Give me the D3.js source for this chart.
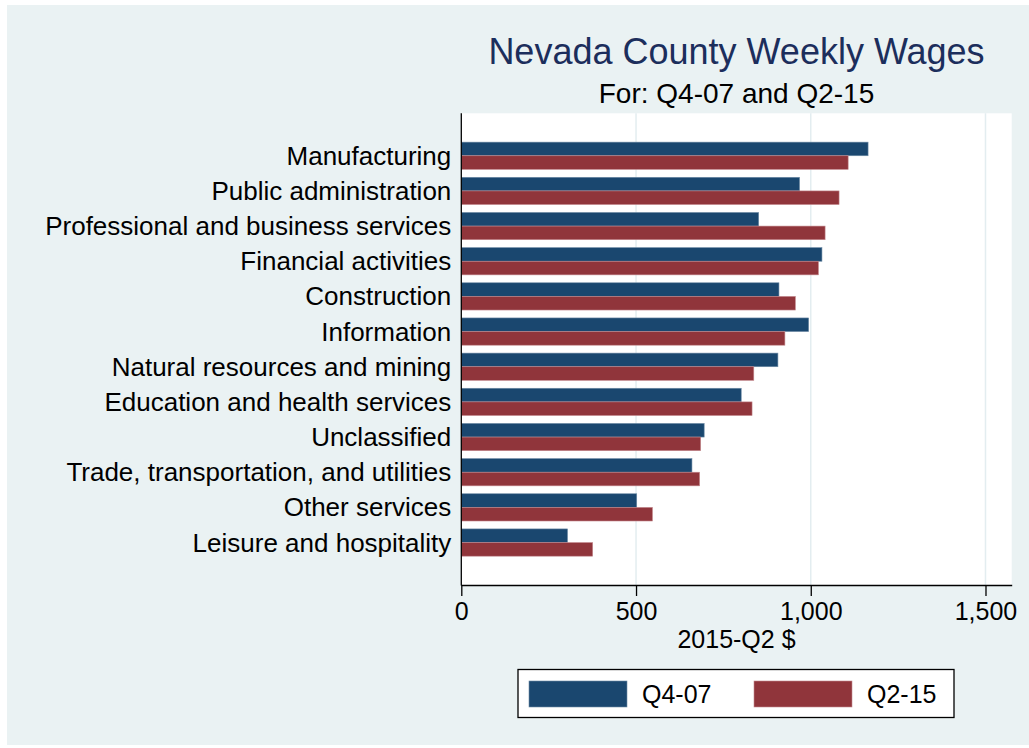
<!DOCTYPE html>
<html>
<head>
<meta charset="utf-8">
<script src="https://cdn.jsdelivr.net/npm/d3@7"></script>
<style>
  body { margin: 0; background: #fff; }
  text { font-family: "Liberation Sans", Arial, Helvetica, sans-serif; }
</style>
</head>
<body>
<div id="chart"></div>
<script>
// data
const categories = ["Manufacturing", "Public administration", "Professional and business services",
  "Financial activities", "Construction", "Information", "Natural resources and mining",
  "Education and health services", "Unclassified", "Trade, transportation, and utilities",
  "Other services", "Leisure and hospitality"]
const q407 = [1164, 968, 851, 1032, 909, 994, 906, 801, 695, 660, 502, 304]
const q215 = [1107, 1081, 1041, 1022, 956, 926, 837, 832, 685, 682, 547, 376]
const seriesNames = ["Q4-07", "Q2-15"]
const xTicks = [0, 500, 1000, 1500]

const colors = ["#1a476f", "#90353b"]
const outline = ["#6f8ca6", "#c48a8f"]

const W = 1029, H = 748
const plot = {left: 461.3, right: 1011.7, top: 113.3, bottom: 585}

const svg = d3.select("#chart")
  .append("svg")
    .attr("width", W)
    .attr("height", H)

// outer background
svg.append("rect")
  .attr("x", 7).attr("y", 5)
  .attr("width", W - 7).attr("height", H - 8)
  .attr("fill", "#eaf2f3")

// plot region
svg.append("rect")
  .attr("x", plot.left).attr("y", plot.top)
  .attr("width", plot.right - plot.left).attr("height", plot.bottom - plot.top)
  .attr("fill", "#fff")

const x = d3.scaleLinear()
  .domain([0, 1575])
  .range([plot.left, plot.right])

const y = d3.scaleBand()
  .domain(categories)
  .range([plot.top, plot.bottom])
  .paddingInner(0.225)
  .paddingOuter(0.82)

const ySub = d3.scaleBand()
  .domain(seriesNames)
  .range([0, y.bandwidth()])

// grid lines
svg.append("g")
  .selectAll("line")
  .data(xTicks.filter(d => d > 0))
  .join("line")
    .attr("x1", d => x(d)).attr("x2", d => x(d))
    .attr("y1", plot.top).attr("y2", plot.bottom)
    .attr("stroke", "#e3edf0")
    .attr("stroke-width", 1.5)

// bars
const rows = categories.map((c, i) => ({cat: c, vals: [q407[i], q215[i]]}))
const groups = svg.append("g")
  .selectAll("g")
  .data(rows)
  .join("g")
    .attr("transform", d => `translate(0,${y(d.cat)})`)

groups.selectAll("rect")
  .data(d => d.vals.map((v, j) => ({name: seriesNames[j], v: v, j: j})))
  .join("rect")
    .attr("x", x(0))
    .attr("y", d => ySub(d.name))
    .attr("width", d => x(d.v) - x(0))
    .attr("height", ySub.bandwidth())
    .attr("fill", d => colors[d.j])
    .attr("stroke", d => outline[d.j])
    .attr("stroke-width", 0.6)

// y axis line + labels
svg.append("line")
  .attr("x1", plot.left).attr("x2", plot.left)
  .attr("y1", plot.top).attr("y2", plot.bottom + 0.5)
  .attr("stroke", "#000").attr("stroke-width", 1.3)

svg.append("g")
  .selectAll("text")
  .data(categories)
  .join("text")
    .attr("x", plot.left - 10)
    .attr("y", d => y(d) + y.bandwidth() / 2 + 9)
    .attr("text-anchor", "end")
    .attr("font-size", 26)
    .attr("fill", "#000")
    .text(d => d)

// x axis
const xAxis = svg.append("g")
  .attr("transform", `translate(0,${plot.bottom})`)
  .call(d3.axisBottom(x).tickValues(xTicks).tickSize(11).tickSizeOuter(0)
    .tickFormat(d3.format(",")))
xAxis.select(".domain").attr("stroke-width", 1.3)
xAxis.selectAll(".tick line").attr("stroke-width", 1.3)
xAxis.selectAll(".tick text")
  .attr("font-size", 25)
  .attr("font-family", "Liberation Sans, Arial, sans-serif")
  .attr("fill", "#000")
  .attr("dy", 0)
  .attr("y", 35)

svg.append("text")
  .attr("x", (plot.left + plot.right) / 2)
  .attr("y", 648)
  .attr("text-anchor", "middle")
  .attr("font-size", 25)
  .text("2015-Q2 $")

// titles
svg.append("text")
  .attr("x", (plot.left + plot.right) / 2)
  .attr("y", 64)
  .attr("text-anchor", "middle")
  .attr("font-size", 36)
  .attr("fill", "#1c2e5c")
  .text("Nevada County Weekly Wages")

svg.append("text")
  .attr("x", (plot.left + plot.right) / 2)
  .attr("y", 103)
  .attr("text-anchor", "middle")
  .attr("font-size", 28)
  .attr("fill", "#000")
  .text("For: Q4-07 and Q2-15")

// legend
const legend = svg.append("g")
legend.append("rect")
  .attr("x", 518).attr("y", 669.5)
  .attr("width", 436).attr("height", 48)
  .attr("fill", "#fff")
  .attr("stroke", "#000").attr("stroke-width", 1.3)

const legX = [529, 754]
const items = legend.selectAll("g.item")
  .data(seriesNames)
  .join("g")
    .attr("class", "item")
    .attr("transform", (d, i) => `translate(${legX[i]},0)`)
items.append("rect")
  .attr("x", 0).attr("y", 681)
  .attr("width", 98).attr("height", 26)
  .attr("fill", (d, i) => colors[i])
  .attr("stroke", (d, i) => outline[i])
  .attr("stroke-width", 0.6)
items.append("text")
  .attr("x", 113).attr("y", 703)
  .attr("font-size", 25)
  .text(d => d)
</script>
</body>
</html>
